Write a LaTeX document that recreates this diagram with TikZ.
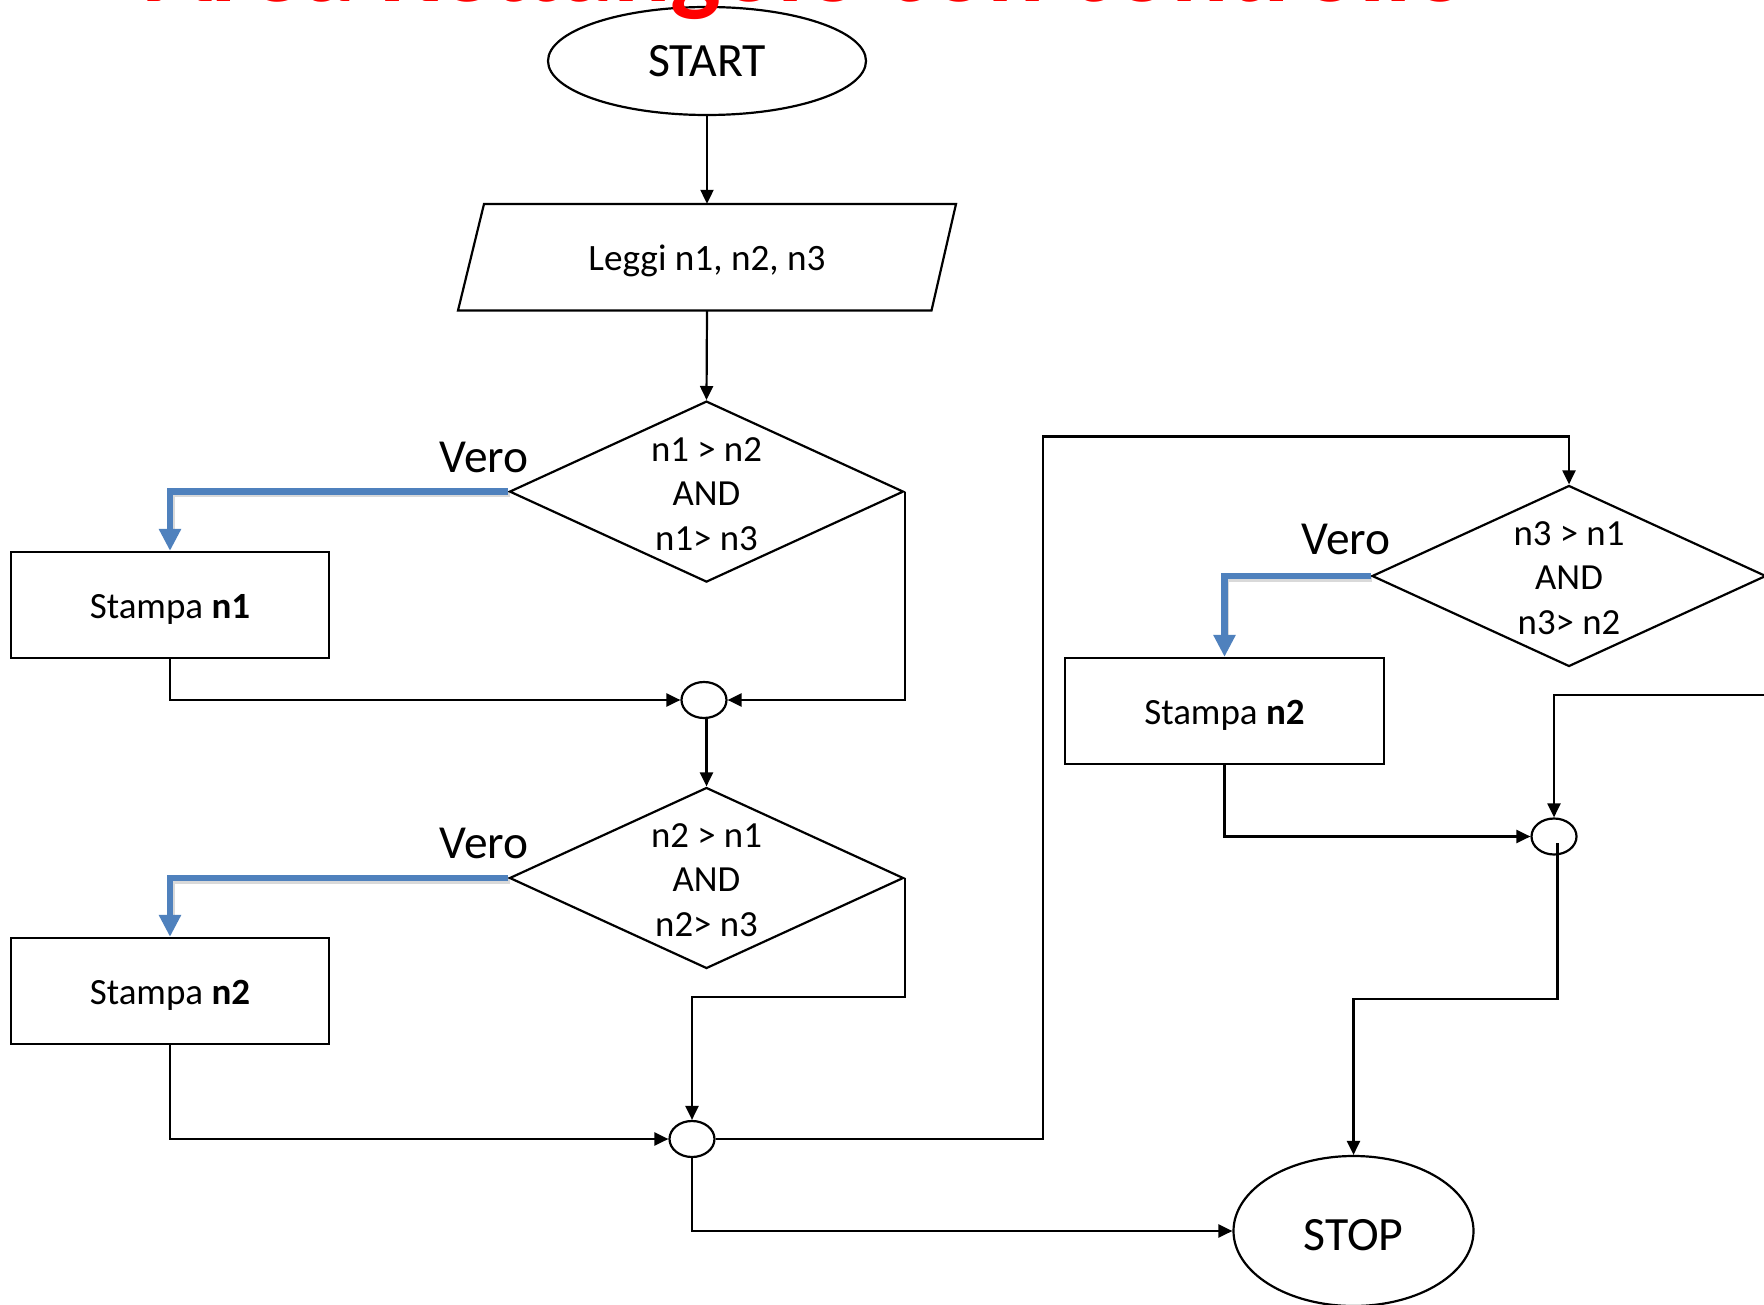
\documentclass[tikz,border=0pt]{standalone}
\usepackage{fontspec}
\setmainfont{Carlito}
\usetikzlibrary{shapes.geometric,arrows.meta,calc}
\definecolor{vero}{RGB}{79,129,189}

\tikzset{
  flow/.style={line width=2.2pt, line join=miter},
  arr/.style={flow, -{Triangle[length=14pt,width=13pt]}},
  yes/.style={line width=6.5pt, vero, line join=miter, -{Triangle[length=22pt,width=21pt]}},
  yesshade/.style={line width=6.5pt, black, opacity=0.15, line join=miter},
  term/.style={ellipse, draw, line width=2.2pt, inner sep=0pt, text depth=0pt},
  joint/.style={ellipse, draw, line width=2.2pt, inner sep=0pt, minimum width=45pt, minimum height=36pt},
  cond/.style={diamond, draw, line width=2.2pt, inner sep=0pt, minimum width=394pt, minimum height=181pt},
  stepbox/.style={rectangle, draw, line width=2.2pt, inner sep=0pt, minimum width=318pt, minimum height=106pt,
    text height=27pt, text depth=0pt, font=\fontsize{37}{44}\selectfont},
  condtxt/.style={anchor=base, inner sep=0pt, font=\fontsize{36.8}{44}\selectfont},
  verotxt/.style={anchor=base, inner sep=0pt, font=\fontsize{47.4}{56}\selectfont},
}

\begin{document}
\begin{tikzpicture}[x=1pt,y=-1pt]
\useasboundingbox (0,0) rectangle (1764,1305);
\fill[white] (0,0) rectangle (1764,1305);
\clip (0,0) rectangle (1764,1305);

% terminals
\node[term, minimum width=318pt, minimum height=108pt, text height=31.4pt,
      font=\fontsize{47.8}{56}\selectfont] (start) at (707,61) {START};
\node[term, minimum width=240pt, minimum height=150pt, text height=38pt,
      font=\fontsize{47.8}{56}\selectfont] (stop) at (1353.5,1231) {STOP};

% input
\draw[flow] (484,204) -- (956,204) -- (931.5,310.5) -- (458,310.5) -- cycle;
\node[inner sep=0pt, minimum width=450pt, minimum height=106.5pt, text height=27pt, text depth=0pt,
      font=\fontsize{37.2}{44}\selectfont] (leggi) at (707,257.25) {Leggi n1, n2, n3};

% decisions
\node[cond] (d1) at (706.5,491.6) {};
\node[cond] (d2) at (706.5,878) {};
\node[cond] (d3) at (1569,576) {};

\node[condtxt] (d1a) at ($(d1)+(0,-30.6)$) {n1 > n2};
\node[condtxt] (d1b) at ($(d1)+(0,13.6)$) {AND};
\node[condtxt] (d1c) at ($(d1)+(0,58.6)$) {n1> n3};
\node[condtxt] (d2a) at ($(d2)+(0,-30.6)$) {n2 > n1};
\node[condtxt] (d2b) at ($(d2)+(0,13.6)$) {AND};
\node[condtxt] (d2c) at ($(d2)+(0,58.6)$) {n2> n3};
\node[condtxt] (d3a) at ($(d3)+(0,-30.6)$) {n3 > n1};
\node[condtxt] (d3b) at ($(d3)+(0,13.6)$) {AND};
\node[condtxt] (d3c) at ($(d3)+(0,58.6)$) {n3> n2};

\node[verotxt] (v1) at (484,472) {Vero};
\node[verotxt] (v2) at (484,858) {Vero};
\node[verotxt] (v3) at (1346,554) {Vero};

% outputs
\node[stepbox] (s1) at (170,605) {Stampa \textbf{n1}};
\node[stepbox] (s2) at (170,991) {Stampa \textbf{n2}};
\node[stepbox, minimum width=319pt] (s3) at (1224.5,711) {Stampa \textbf{n2}};

% connectors
\node[joint] (c1) at (704,700) {};
\node[joint] (c2) at (692,1139) {};
\node[joint] (c3) at (1554,836.5) {};

\coordinate (j2) at (692,997);
\coordinate (k)  at (1043,436.5);
\coordinate (r3) at (1764,695);
\coordinate (c3in) at (1557.5,843);
\coordinate (j3) at (1353.5,999);

% main flow
\draw[arr] (start) -- (start.south |- leggi.north);
\draw[arr] (leggi.south) -- (d1.north);

% first decision
\draw[yesshade] ([shift={(1.5,2.5)}]d1.west) -| ($(s1.north)+(1.5,-20)$);
\draw[yes] (d1.west) -| (s1.north);
\draw[arr] (s1.south) |- (c1.west);
\draw[arr] (d1.east) |- (c1.east);
\draw[arr] (c1.south -| d2.north) -- (d2.north);

% second decision
\draw[yesshade] ([shift={(1.5,2.5)}]d2.west) -| ($(s2.north)+(1.5,-20)$);
\draw[yes] (d2.west) -| (s2.north);
\draw[arr] (s2.south) |- (c2.west);
\draw[arr] (d2.east) |- (j2) -- (c2.north);
\draw[arr] (c2.east) -| (k) -| (d3.north);
\draw[arr] (c2.south) |- (stop.west);

% third decision
\draw[yesshade] ([shift={(1.5,2.5)}]d3.west) -| ($(s3.north)+(1.5,-20)$);
\draw[yes] (d3.west) -| (s3.north);
\draw[arr] (s3.south) |- (c3.west);
\draw[arr] (r3) -| (c3.north);
\draw[arr] (c3in) |- (j3) -- (stop.north);

% slide title
\node[anchor=base, inner sep=0pt, text=red, font=\fontsize{107}{120}\selectfont\bfseries] (title)
  at (808,2) {Area Rettangolo con controllo};
\end{tikzpicture}
\end{document}
